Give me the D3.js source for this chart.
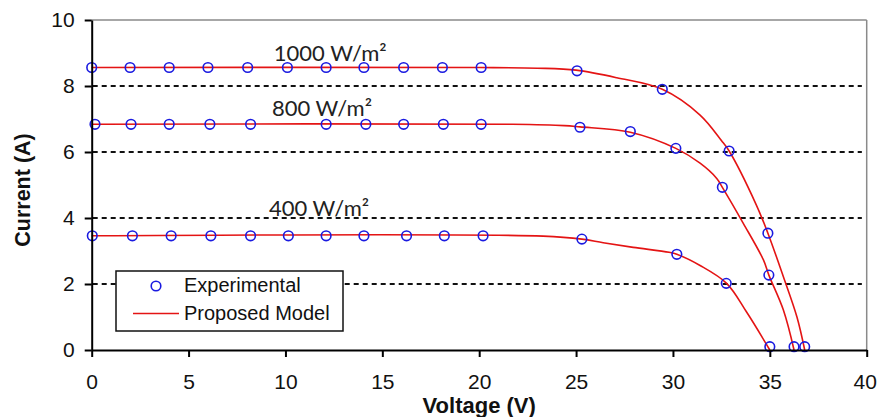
<!DOCTYPE html>
<html>
<head>
<meta charset="utf-8">
<script src="https://cdn.jsdelivr.net/npm/d3@7"></script>
<style>
  body { margin: 0; background: #fff; }
  .tick text { font-family: "Liberation Sans", Arial, sans-serif; font-size: 21px; fill: #111; }
  .axis path, .axis line { stroke: #000; stroke-width: 2px; }
</style>
</head>
<body>
<script>
// Experimental points
var voltage1000 = [0, 1.98, 4.0, 6.0, 8.05, 10.1, 12.1, 14.05, 16.1, 18.1, 20.1, 25.05, 29.45, 32.9, 34.9, 36.8];
var current1000 = [8.56, 8.56, 8.56, 8.56, 8.56, 8.56, 8.56, 8.56, 8.56, 8.56, 8.56, 8.46, 7.9, 6.03, 3.54, 0.1];

var voltage800 = [0.17, 2.03, 4.0, 6.1, 8.2, 12.1, 14.15, 16.1, 18.15, 20.1, 25.2, 27.8, 30.15, 32.55, 34.95, 36.25];
var current800 = [6.84, 6.84, 6.84, 6.84, 6.84, 6.84, 6.84, 6.84, 6.84, 6.84, 6.75, 6.62, 6.11, 4.93, 2.27, 0.1];

var voltage400 = [0.03, 2.1, 4.1, 6.15, 8.2, 10.15, 12.1, 14.05, 16.25, 18.2, 20.2, 25.3, 30.2, 32.75, 35.0];
var current400 = [3.46, 3.46, 3.46, 3.46, 3.46, 3.46, 3.46, 3.46, 3.46, 3.46, 3.46, 3.36, 2.9, 2.02, 0.1];

// Proposed model curves
var modelV1000 = [0, 20, 23, 25, 27.1, 29.45, 31.4, 32.5, 32.9, 34.3, 34.9, 35.7, 36.4, 36.8];
var modelI1000 = [8.56, 8.56, 8.54, 8.48, 8.25, 7.9, 7.12, 6.35, 6.03, 4.4, 3.54, 2.22, 1.0, 0];

var modelV800 = [0, 21.7, 24.4, 25.2, 27.8, 30.15, 31.4, 32.26, 32.55, 33.63, 34.67, 34.95, 35.7, 36.25];
var modelI800 = [6.84, 6.84, 6.8, 6.76, 6.6, 6.11, 5.66, 5.2, 4.93, 3.84, 2.73, 2.27, 1.21, 0];

var modelV400 = [0, 23.3, 25.3, 26.4, 27.95, 29.8, 30.2, 31.4, 32.77, 33.8, 35.0];
var modelI400 = [3.46, 3.45, 3.36, 3.25, 3.11, 2.96, 2.9, 2.56, 2.02, 1.15, 0];

// Irradiance labels and where they sit
var labelNames = ["1000 W/m\u00b2", "800 W/m\u00b2", "400 W/m\u00b2"];
var labelCurrent = [8.75, 7.1, 4.05];
var labelVoltage = [9.4, 9.3, 9.15];

var xTicks = [0, 5, 10, 15, 20, 25, 30, 35, 40];
var yTicks = [0, 2, 4, 6, 8, 10];
var gridValues = [2, 4, 6, 8];

// Width, height and margins
var w = 877;
var h = 417;
var margin = {top: 20, right: 10.3, bottom: 67, left: 91.7};

var svg = d3.select("body")
    .append("svg")
    .attr("width", w)
    .attr("height", h);

var xScale = d3.scaleLinear()
    .domain([0, 40])
    .range([margin.left, w - margin.right]);
var yScale = d3.scaleLinear()
    .domain([0, 10])
    .range([h - margin.bottom, margin.top]);

// Grey frame on top and right
svg.append("line")
    .attr("x1", xScale(0)).attr("x2", xScale(40))
    .attr("y1", yScale(10)).attr("y2", yScale(10))
    .style("stroke", "#8a8a8a").style("stroke-width", 1.5);
svg.append("line")
    .attr("x1", xScale(40)).attr("x2", xScale(40))
    .attr("y1", yScale(10)).attr("y2", yScale(0))
    .style("stroke", "#8a8a8a").style("stroke-width", 1.5);

// Dashed gridlines
svg.selectAll(".grid")
    .data(gridValues)
    .enter()
    .append("line")
    .attr("class", "grid")
    .attr("x1", xScale(0) + 1)
    .attr("x2", xScale(39.75))
    .attr("y1", function(d) { return yScale(d); })
    .attr("y2", function(d) { return yScale(d); })
    .style("stroke", "#111")
    .style("stroke-width", 2)
    .style("stroke-dasharray", "5,4");

// Irradiance labels
svg.selectAll(".irr")
    .data(labelNames)
    .enter()
    .append("text")
    .attr("class", "irr")
    .attr("x", function(d, i) { return xScale(labelVoltage[i]); })
    .attr("y", function(d, i) { return yScale(labelCurrent[i]); })
    .style("font-family", "Lato, 'Open Sans', sans-serif")
    .style("font-size", "22px")
    .style("fill", "#222")
    .text(function(d) { return d; });

// Model lines
var line = d3.line()
    .x(function(d) { return xScale(d[0]); })
    .y(function(d) { return yScale(d[1]); })
    .curve(d3.curveCatmullRom.alpha(0.5));

var models = [[modelV1000, modelI1000], [modelV800, modelI800], [modelV400, modelI400]];
models.forEach(function(m) {
  var pts = m[0].map(function(v, i) { return [v, m[1][i]]; });
  svg.append("path")
      .datum(pts)
      .attr("d", line)
      .style("fill", "none")
      .style("stroke", "#e41414")
      .style("stroke-width", 1.6);
});

// Experimental circles
var experiments = [[voltage1000, current1000], [voltage800, current800], [voltage400, current400]];
experiments.forEach(function(e) {
  var pts = e[0].map(function(v, i) { return [v, e[1][i]]; });
  svg.selectAll(null)
      .data(pts)
      .enter()
      .append("circle")
      .attr("cx", function(d) { return xScale(d[0]); })
      .attr("cy", function(d) { return yScale(d[1]); })
      .attr("r", 4.8)
      .style("fill", "none")
      .style("stroke", "#1a1ae0")
      .style("stroke-width", 1.6);
});

// Axes
svg.append("g")
    .attr("class", "x axis")
    .attr("transform", "translate(0," + yScale(0) + ")")
    .call(d3.axisBottom(xScale).tickValues(xTicks).tickSize(7).tickSizeOuter(0).tickPadding(17));

// Keep the last tick label inside the window
svg.selectAll(".x.axis .tick text")
    .filter(function(d) { return d === 40; })
    .attr("dx", -2);

svg.append("g")
    .attr("class", "y axis")
    .attr("transform", "translate(" + xScale(0) + ",0)")
    .call(d3.axisLeft(yScale).tickValues(yTicks).tickSize(7).tickSizeOuter(0).tickPadding(10));

// Axis titles
svg.append("text")
    .attr("transform", "translate(29.5," + ((yScale(0) + yScale(10)) / 2 + 5) + ") rotate(-90)")
    .style("text-anchor", "middle")
    .style("font-family", "'Liberation Sans', Arial, sans-serif")
    .style("font-weight", "bold")
    .style("font-size", "21.5px")
    .style("fill", "#111")
    .text("Current (A)");

svg.append("text")
    .attr("x", (xScale(0) + xScale(40)) / 2)
    .attr("y", 412.5)
    .style("text-anchor", "middle")
    .style("font-family", "'Liberation Sans', Arial, sans-serif")
    .style("font-weight", "bold")
    .style("font-size", "22px")
    .style("fill", "#111")
    .text("Voltage (V)");

// Legend
var legend = svg.append("g")
    .attr("transform", "translate(116,271)");

legend.append("rect")
    .attr("width", 227)
    .attr("height", 60)
    .style("fill", "#fff")
    .style("stroke", "#111")
    .style("stroke-width", 1.5);

legend.append("circle")
    .attr("cx", 40)
    .attr("cy", 15)
    .attr("r", 4.8)
    .style("fill", "none")
    .style("stroke", "#1a1ae0")
    .style("stroke-width", 1.6);

legend.append("line")
    .attr("x1", 17).attr("x2", 63)
    .attr("y1", 42.5).attr("y2", 42.5)
    .style("stroke", "#e41414")
    .style("stroke-width", 1.6);

legend.selectAll(".legtext")
    .data(["Experimental", "Proposed Model"])
    .enter()
    .append("text")
    .attr("x", 68)
    .attr("y", function(d, i) { return 21 + i * 27.5; })
    .style("font-family", "'Liberation Sans', Arial, sans-serif")
    .style("font-size", "20px")
    .style("fill", "#111")
    .text(function(d) { return d; });
</script>
</body>
</html>
